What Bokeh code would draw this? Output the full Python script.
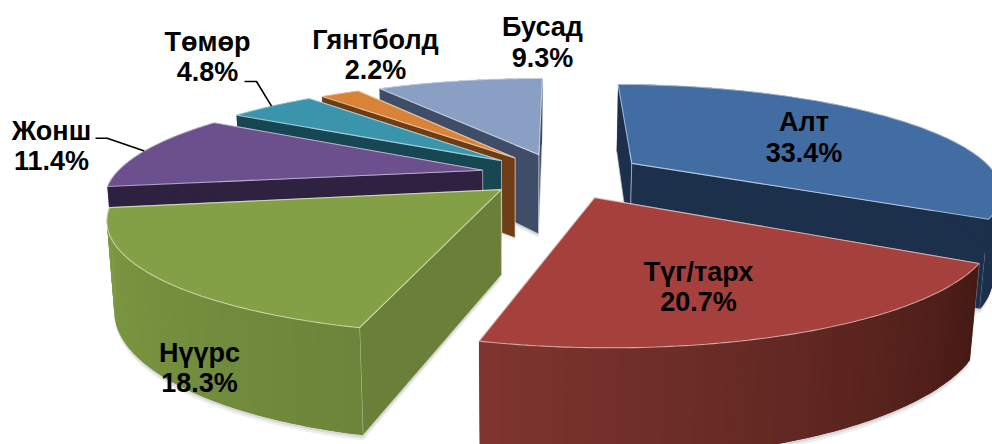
import numpy as np
from bokeh.plotting import figure
from bokeh.core.properties import value
from bokeh.embed import file_html
from bokeh.resources import INLINE
from bokeh.models import Range1d

names = ["Алт", "Түг/тарх", "Нүүрс", "Жонш", "Төмөр", "Гянтболд", "Бусад"]
shares = [33.4, 20.7, 18.3, 11.4, 4.8, 2.2, 9.3]
explode = [0.23137, 0.23039, 0.21229, 0.21857, 0.21678, 0.21178, 0.21311]
top_col = ["#416da3", "#a5403d", "#84a047", "#6c4f8d", "#3a94ab", "#d98339", "#8a9fc4"]
wall_col = ["#1c2f4b", "#5a211d", "#6a8038", "#2f2140", "#164753", "#6e3d15", "#3f4d68"]
rim_from = ["#1c2f4b", "#7f352f", "#7f9a43", "#2f2140", "#164753", "#6e3d15", "#3f4d68"]
rim_to = ["#1c2f4b", "#451a15", "#6c853a", "#2f2140", "#164753", "#6e3d15", "#3f4d68"]
edge_col = ["#c9d6e8", "#e8c9c4", "#dfe9c4", "#cfc4de", "#c0dfe8", "#f2d6b8", "#e0e6f2"]
label_x = [803.5, 698, 199, 51, 207, 375, 542]
label_y = [121.7, 271, 352, 130, 41, 39, 26.5]
line_gap = 30.5
draw_order = [6, 5, 4, 3, 0, 2, 1]

CAM = [366.42329, 130.21033, 559.90709, 1.2883, -61.63516, 174.14688,
       0.00108, 0.23352, 8.65643, 86.95616, 0.01687]

f = np.array(shares) / sum(shares) * 2 * np.pi
st = np.concatenate([[0], np.cumsum(f)[:-1]])
en = np.cumsum(f)


def proj(X, Y, Z=0.0):
    c = CAM
    w = 1 + c[6] * X + c[7] * Y + c[10] * Z
    return (c[0] * X + c[1] * Y + c[2] + c[8] * Z) / w, (c[3] * X + c[4] * Y + c[5] + c[9] * Z) / w


def pt(i, t, r=1.0, Z=0.0):
    m = (st[i] + en[i]) / 2
    return proj(r * np.sin(t) + explode[i] * np.sin(m), r * np.cos(t) + explode[i] * np.cos(m), Z)


def mix(a, b, u):
    ca = [int(a[k:k + 2], 16) for k in (1, 3, 5)]
    cb = [int(b[k:k + 2], 16) for k in (1, 3, 5)]
    return "#%02x%02x%02x" % tuple(int(round(x + (y - x) * u)) for x, y in zip(ca, cb))


p = figure(width=992, height=444, output_backend="svg", toolbar_location=None,
           x_range=Range1d(0, 992), y_range=Range1d(444, 0), min_border=0)
p.axis.visible = False
p.grid.visible = False
p.outline_line_color = None

for i in draw_order:
    ts = np.linspace(st[i], en[i], 90)
    ax, ay = pt(i, 0.0, 0.0)
    rx, ry = pt(i, ts)
    # soft shadow below the slab
    for z, al in ((1.05, 0.10), (1.025, 0.14)):
        bx, by = pt(i, ts, 1.0, z)
        cx, cy = pt(i, 0.0, 0.0, z)
        p.patch(list(bx) + [cx], list(by) + [cy], fill_color="#555555", fill_alpha=al, line_color=None)
    # radial walls, the one further back first
    for t in sorted((st[i], en[i]), key=lambda a: pt(i, a)[1]):
        sx, sy = pt(i, t)
        sbx, sby = pt(i, t, 1.0, 1.0)
        abx, aby = pt(i, 0.0, 0.0, 1.0)
        p.patch([ax, sx, sbx, abx], [ay, sy, sby, aby], fill_color=wall_col[i],
                line_color=edge_col[i], line_alpha=0.55, line_width=1)
    # outer wall, as overlapping strips so no seams show
    n = 60
    tw = np.linspace(st[i], en[i], n + 1)
    for k in range(n):
        tt = np.linspace(tw[k], tw[min(k + 2, n)], 4)
        tx, ty = pt(i, tt)
        bx, by = pt(i, tt, 1.0, 1.0)
        col = mix(rim_to[i], rim_from[i], k / (n - 1))
        p.patch(list(tx) + list(bx[::-1]), list(ty) + list(by[::-1]), fill_color=col, line_color=None)
    # top face
    p.patch([ax] + list(rx), [ay] + list(ry), fill_color=top_col[i],
            line_color=edge_col[i], line_alpha=0.75, line_width=1.1)

# leader lines for the two side labels
for i, elbow in ((3, [(95, 137.7), (106.7, 137.7)]), (4, [(244, 81), (256, 81)])):
    mx, my = pt(i, (st[i] + en[i]) / 2)
    p.line([e[0] for e in elbow] + [float(mx)], [e[1] for e in elbow] + [float(my)],
           line_color="#000000", line_width=1.6)

p.text(label_x, label_y, text=names, text_font=value("Liberation Sans"), text_font_style="bold",
       text_font_size="27px", text_align="center", text_baseline="alphabetic", text_color="#000000")
p.text(label_x, [y + line_gap for y in label_y], text=[f"{v}%" for v in shares],
       text_font=value("Liberation Sans"), text_font_style="bold",
       text_font_size="27px", text_align="center", text_baseline="alphabetic", text_color="#000000")

open("out.html", "w").write(file_html(p, INLINE))
